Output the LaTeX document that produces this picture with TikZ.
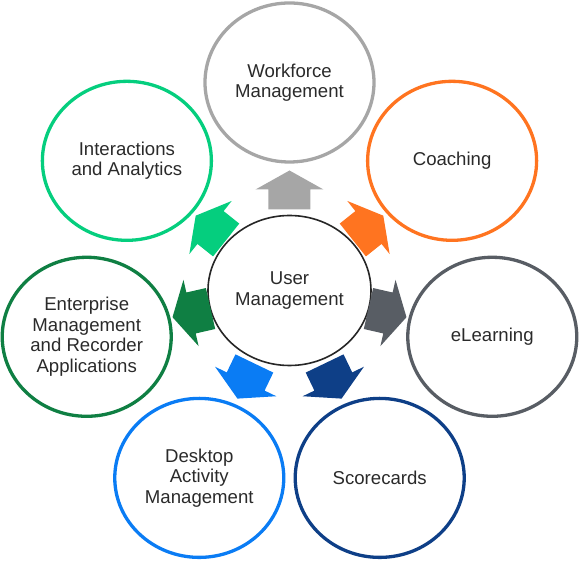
\documentclass[tikz,border=0pt]{standalone}
\usepackage{fontspec}
\setmainfont{Liberation Sans}
\usepackage{xcolor}
\usetikzlibrary{shapes.geometric}

\definecolor{wfmgray}{HTML}{A6A6A6}
\definecolor{coachorange}{HTML}{FF7420}
\definecolor{elgray}{HTML}{585D64}
\definecolor{scorenavy}{HTML}{0E3F87}
\definecolor{deskblue}{HTML}{0A7CF4}
\definecolor{entgreen}{HTML}{0F7F43}
\definecolor{intmint}{HTML}{05CE7E}
\definecolor{textgray}{HTML}{2A2A2A}

\begin{document}
\begin{tikzpicture}[
  x=1pt, y=1pt,
  hub/.style={draw=black!85, line width=1.6pt, ellipse, inner sep=0pt,
              minimum width=163pt, minimum height=150pt, align=center,
              font=\fontsize{18.6}{20.6}\selectfont, text=textgray},
  spot/.style={draw=#1, line width=3.3pt, ellipse, inner sep=0pt,
               minimum width=169pt, minimum height=159pt, align=center,
               font=\fontsize{18.6}{20.6}\selectfont, text=textgray},
  spoke/.pic={\fill[#1] (81,-21) -- (101,-21) -- (101,-34) -- (120,0)
                -- (101,34) -- (101,21) -- (81,21) -- cycle;}
]
  \useasboundingbox (-289.5,-270.5) rectangle (289.5,290.5);

  \node[hub] (user) at (0,0) {User\\Management};
  \node[spot=wfmgray] (wfm) at (90:208) {Workforce\\Management};
  \node[spot=coachorange] (coach) at (38.57:208) {Coaching};
  \node[spot=elgray] (elearn) at (-12.86:208) {eLearning};
  \node[spot=scorenavy] (score) at (-64.29:208) {Scorecards};
  \node[spot=deskblue] (desk) at (-115.71:208) {Desktop\\Activity\\Management};
  \node[spot=entgreen] (ent) at (-167.14:208) {Enterprise\\Management\\and Recorder\\Applications};
  \node[spot=intmint] (inter) at (141.43:208) {Interactions\\and Analytics};

  % block arrows from the hub out to each circle
  \pic[rotate=90] at (user) {spoke=wfmgray};
  \pic[rotate=38.57] at (user) {spoke=coachorange};
  \pic[rotate=-12.86] at (user) {spoke=elgray};
  \pic[rotate=-64.29] at (user) {spoke=scorenavy};
  \pic[rotate=-115.71] at (user) {spoke=deskblue};
  \pic[rotate=-167.14] at (user) {spoke=entgreen};
  \pic[rotate=141.43] at (user) {spoke=intmint};
\end{tikzpicture}
\end{document}
